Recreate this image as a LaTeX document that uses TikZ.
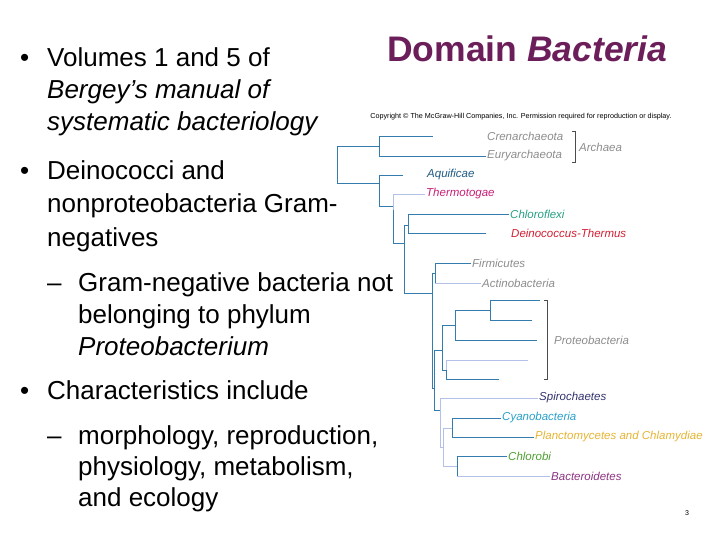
\documentclass[tikz,border=0pt]{standalone}
\usepackage{fontspec}
\setmainfont{Liberation Sans}
\begin{document}
\begin{tikzpicture}[x=1pt,y=-1pt,
  body/.style={anchor=base west,inner sep=0pt,font=\fontsize{26}{30}\selectfont},
  lab/.style={anchor=west,inner sep=1pt,font=\fontsize{11.5}{13}\selectfont\itshape},
  br/.style={draw=blue!40!cyan!60!black!80,line width=0.8pt},
  brl/.style={draw=cyan!40!blue!30!white,line width=0.8pt}]
\useasboundingbox (0,0) rectangle (720,540);
% title
\node[anchor=base west,inner sep=0pt,font=\fontsize{35.5}{40}\selectfont\bfseries,text={rgb,255:red,107;green,30;blue,90}] (title) at (387,62) {Domain \textit{Bacteria}};
% bullets
\node[body] (b1) at (20,67) {•};
\node[body] (t1a) at (47,67) {Volumes 1 and 5 of};
\node[body] (t1b) at (47,99) {\itshape Bergey’s manual of};
\node[body] (t1c) at (47,131) {\itshape systematic bacteriology};
\node[body] (b2) at (20,180) {•};
\node[body] (t2a) at (47,180) {Deinococci and};
\node[body] (t2b) at (47,213) {nonproteobacteria Gram-};
\node[body] (t2c) at (47,247) {negatives};
\node[body] (d1) at (47,291) {–};
\node[body] (t3a) at (78,291) {Gram-negative bacteria not};
\node[body] (t3b) at (78,323) {belonging to phylum};
\node[body] (t3c) at (78,355) {\itshape Proteobacterium};
\node[body] (b3) at (20,399) {•};
\node[body] (t4) at (47,399) {Characteristics include};
\node[body] (d2) at (47,444) {–};
\node[body] (t5a) at (78,444) {morphology, reproduction,};
\node[body] (t5b) at (78,475) {physiology, metabolism,};
\node[body] (t5c) at (78,506) {and ecology};
\node[inner sep=0pt,font=\fontsize{7}{8}\selectfont] (pg) at (687,513) {3};
\node[inner sep=0pt,font=\fontsize{7.2}{8}\selectfont] (copy) at (521,117) {Copyright © The McGraw-Hill Companies, Inc. Permission required for reproduction or display.};
% labels
\definecolor{gr}{RGB}{140,140,140}
\node[lab,text=gr] (cren) at (486,136) {Crenarchaeota};
\node[lab,text=gr] (eury) at (486,156) {Euryarchaeota};
\node[lab,text=gr] (arch) at (578,147) {Archaea};
\node[lab,text={rgb,255:red,30;green,90;blue,130}] (aqui) at (426,175) {Aquificae};
\node[lab,text={rgb,255:red,200;green,30;blue,120}] (ther) at (425,194) {Thermotogae};
\node[lab,text={rgb,255:red,40;green,160;blue,130}] (chlf) at (509,214) {Chloroflexi};
\node[lab,text={rgb,255:red,210;green,30;blue,50}] (dein) at (510,233) {Deinococcus-Thermus};
\node[lab,text=gr] (firm) at (471,263) {Firmicutes};
\node[lab,text=gr] (acti) at (481,283) {Actinobacteria};
\node[lab,text=gr] (prot) at (553,340) {Proteobacteria};
\node[lab,text={rgb,255:red,50;green,50;blue,110}] (spir) at (538,398) {Spirochaetes};
\node[lab,text={rgb,255:red,40;green,160;blue,200}] (cyan) at (501,418) {Cyanobacteria};
\node[lab,text={rgb,255:red,230;green,180;blue,50}] (plan) at (534,437) {Planctomycetes and Chlamydiae};
\node[lab,text={rgb,255:red,80;green,160;blue,50}] (chlb) at (507,456) {Chlorobi};
\node[lab,text={rgb,255:red,140;green,50;blue,130}] (bact) at (550,476) {Bacteroidetes};
% brackets
\draw[black!70,line width=0.5pt] (572,131) -- (575,131) -- (575,162) -- (572,162);
\draw[black!70,line width=0.5pt] (544,300) -- (547,300) -- (547,379) -- (544,379);
% tree
\draw[br] (379,146) -| (337,183) -- (379,183);
\draw[br] (433,136) -| (379,156) -- (eury.west);
\draw[br] (403,175) -| (379,206) -- (393,206);
\draw[brl] (ther.west) -| (393,210);
\draw[br] (393,210) |- (404,243);
\draw[br] (chlf.west) -| (408,233) -- (486,233);
\draw[br] (404,225) -- (408,225);
\draw[br] (404,225) |- (432,293);
\draw[br] (firm.west) -| (435,283); \draw[brl] (435,283) -- (acti.west);
\draw[br] (435,273) -- (432,273) -- (432,388) -- (434,388);
\draw[br] (442,350) -- (434,350) -- (434,410) -- (440,410);
\draw[br] (455,340) -- (455,310) -- (490,310);
\draw[br] (540,300) -| (490,320) -- (532,320);
\draw[br] (455,340) -- (537,340);
\draw[br] (455,325) -- (442,325) |- (446,370);
\draw[brl] (528,360) -| (446,370);
\draw[br] (446,370) |- (499,379);
\draw[brl] (spir.west) -| (440,447) -- (443,447);
\draw[brl] (443,428) -- (443,466) -- (457,466);
\draw[br] (cyan.west) -| (452,437) -- (plan.west);
\draw[brl] (443,428) -- (452,428);
\draw[br] (chlb.west) -| (457,476);
\draw[brl] (457,476) -- (bact.west);
\end{tikzpicture}
\end{document}
